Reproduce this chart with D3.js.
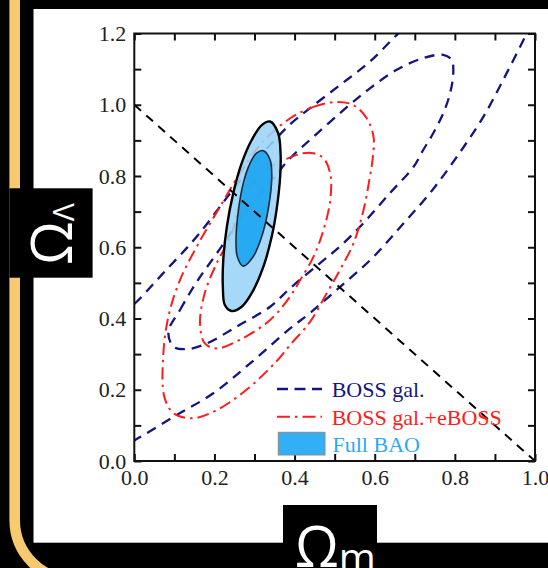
<!DOCTYPE html>
<html>
<head>
<meta charset="utf-8">
<script src="https://cdn.jsdelivr.net/npm/d3@7"></script>
<style>
  html, body { margin: 0; padding: 0; background: #000; }
  svg { display: block; }
</style>
</head>
<body>
<script>
// ---- data (Omega_m, Omega_Lambda) ----
const xTickLabels = [0, 0.2, 0.4, 0.6, 0.8, 1.0];
const yTickLabels = [0, 0.2, 0.4, 0.6, 0.8, 1.0, 1.2];
const legendLabels = ["BOSS gal.", "BOSS gal.+eBOSS", "Full BAO"];

const flatLine = [[0, 1], [1, 0]];

// BOSS gal. 95% (open: runs out of the box on the left and at the top)
const bossOuter = [
  [0.70, 1.24], [0.659, 1.2], [0.588, 1.121], [0.513, 1.055], [0.438, 0.99],
  [0.389, 0.945], [0.31, 0.85], [0.239, 0.751], [0.156, 0.63], [0.072, 0.527],
  [0.006, 0.447], [-0.04, 0.40], [-0.09, 0.25], [-0.04, 0.035], [0.002, 0.059],
  [0.098, 0.124], [0.197, 0.19], [0.289, 0.274], [0.389, 0.372], [0.438, 0.415],
  [0.513, 0.488], [0.596, 0.572], [0.671, 0.666], [0.738, 0.752], [0.805, 0.854],
  [0.871, 0.966], [0.929, 1.088], [0.979, 1.2], [0.995, 1.24]
];
// BOSS gal. 68%
const bossInner = [
  [0.085, 0.363], [0.114, 0.424], [0.156, 0.503], [0.206, 0.583], [0.264, 0.677],
  [0.339, 0.782], [0.389, 0.85], [0.447, 0.91], [0.522, 0.985], [0.588, 1.046],
  [0.655, 1.098], [0.721, 1.131], [0.771, 1.14], [0.792, 1.126], [0.796, 1.088],
  [0.788, 1.032], [0.771, 0.976], [0.746, 0.92], [0.721, 0.873], [0.697, 0.826],
  [0.638, 0.752], [0.572, 0.668], [0.513, 0.602], [0.463, 0.555], [0.389, 0.485],
  [0.339, 0.433], [0.255, 0.377], [0.181, 0.33], [0.131, 0.314], [0.098, 0.321]
];
// BOSS gal.+eBOSS 95%
const redOuter = [
  [0.389, 0.962], [0.447, 0.994], [0.505, 1.008], [0.547, 0.999], [0.58, 0.962],
  [0.597, 0.91], [0.595, 0.85], [0.588, 0.798], [0.572, 0.704], [0.547, 0.611],
  [0.513, 0.536], [0.48, 0.47], [0.438, 0.39], [0.389, 0.326], [0.355, 0.28],
  [0.28, 0.2], [0.206, 0.143], [0.147, 0.12], [0.098, 0.134], [0.075, 0.18],
  [0.072, 0.292], [0.085, 0.405], [0.114, 0.508], [0.156, 0.602], [0.214, 0.714],
  [0.264, 0.808], [0.32, 0.895]
];
// BOSS gal.+eBOSS 68%
const redInner = [
  [0.38, 0.848], [0.422, 0.864], [0.447, 0.864], [0.472, 0.85], [0.489, 0.807],
  [0.489, 0.732], [0.472, 0.648], [0.447, 0.573], [0.414, 0.508], [0.389, 0.462],
  [0.339, 0.396], [0.263, 0.34], [0.206, 0.316], [0.176, 0.33], [0.164, 0.386],
  [0.176, 0.472], [0.206, 0.556], [0.243, 0.637], [0.262, 0.72], [0.30, 0.785],
  [0.345, 0.83]
];
// Full BAO 95% / 68%
const baoOuter = [
  [0.339, 0.953], [0.359, 0.92], [0.365, 0.864], [0.364, 0.798], [0.355, 0.705],
  [0.343, 0.63], [0.322, 0.545], [0.293, 0.471], [0.268, 0.433], [0.243, 0.421],
  [0.226, 0.438], [0.221, 0.489], [0.222, 0.564], [0.231, 0.658], [0.247, 0.752],
  [0.268, 0.836], [0.293, 0.901], [0.318, 0.943]
];
const baoInner = [
  [0.322, 0.871], [0.339, 0.845], [0.343, 0.798], [0.334, 0.705], [0.318, 0.63],
  [0.297, 0.574], [0.272, 0.547], [0.257, 0.574], [0.254, 0.63], [0.26, 0.705],
  [0.272, 0.78], [0.289, 0.836], [0.305, 0.864]
];

// ---- drawing ----
const W = 548, H = 568;
const navy = "#15157f", red = "#ff1c1c";

const svg = d3.select("body").append("svg")
  .attr("width", W).attr("height", H)
  .attr("viewBox", `0 0 ${W} ${H}`);

svg.append("rect").attr("width", W).attr("height", H).attr("fill", "#000");

// gold rounded border on the left
svg.append("rect")
  .attr("x", 14.7).attr("y", -100).attr("width", 700).attr("height", 680)
  .attr("rx", 60).attr("fill", "none")
  .attr("stroke", "#f8ca70").attr("stroke-width", 10.6);

// white panel
svg.append("rect")
  .attr("x", 33.5).attr("y", 9).attr("width", 530).attr("height", 533.7)
  .attr("fill", "#fff");

const x = d3.scaleLinear([0, 1], [134.3, 535]);
const y = d3.scaleLinear([0, 1.2], [461, 33.5]);

svg.append("clipPath").attr("id", "plotclip")
  .append("rect")
  .attr("x", x(0)).attr("y", y(1.2))
  .attr("width", x(1) - x(0)).attr("height", y(0) - y(1.2));

const plot = svg.append("g").attr("clip-path", "url(#plotclip)");

const lineOpen = d3.line().x(d => x(d[0])).y(d => y(d[1])).curve(d3.curveCatmullRom);
const lineClosed = d3.line().x(d => x(d[0])).y(d => y(d[1])).curve(d3.curveCatmullRomClosed);

// BOSS gal.
plot.append("path").attr("d", lineOpen(bossOuter))
  .attr("fill", "none").attr("stroke", navy).attr("stroke-width", 2.3)
  .attr("stroke-dasharray", "10,7");
plot.append("path").attr("d", lineClosed(bossInner))
  .attr("fill", "none").attr("stroke", navy).attr("stroke-width", 2.3)
  .attr("stroke-dasharray", "10,7");

// BOSS gal.+eBOSS
[redOuter, redInner].forEach(c => {
  plot.append("path").attr("d", lineClosed(c))
    .attr("fill", "none").attr("stroke", red).attr("stroke-width", 2)
    .attr("stroke-dasharray", "12,5,2.5,5");
});

// Full BAO
plot.append("path").attr("d", lineClosed(baoOuter))
  .attr("fill", "#9ad4f7").attr("fill-opacity", 0.88)
  .attr("stroke", "#000").attr("stroke-width", 2.4);
plot.append("path").attr("d", lineClosed(baoInner))
  .attr("fill", "#1aa4ef").attr("fill-opacity", 0.9)
  .attr("stroke", "#1b2a3a").attr("stroke-width", 1.6);

// flat universe
plot.append("path").attr("d", lineOpen(flatLine))
  .attr("fill", "none").attr("stroke", "#000").attr("stroke-width", 2)
  .attr("stroke-dasharray", "9,7");

// ---- axes ----
const allTicks = d3.range(0, 11).map(i => i / 10);
const allYTicks = d3.range(0, 13).map(i => i / 10);
const fmt = v => xTickLabels.some(t => Math.abs(t - v) < 1e-6) ? d3.format(".1f")(v) : "";
const fmtY = v => yTickLabels.some(t => Math.abs(t - v) < 1e-6) ? d3.format(".1f")(v) : "";

function styleAxis(g) {
  g.select(".domain").remove();
  g.selectAll(".tick line").attr("stroke", "#111").attr("stroke-width", 2);
  g.selectAll(".tick text")
    .attr("fill", "#222")
    .style("font-family", "'Liberation Serif', 'Times New Roman', serif")
    .style("font-size", "22px");
}

svg.append("g").attr("transform", `translate(0,${y(0)})`)
  .call(d3.axisBottom(x).tickValues(allTicks).tickFormat(fmt).tickSizeInner(-7).tickSizeOuter(0).tickPadding(8))
  .call(styleAxis);
svg.append("g").attr("transform", `translate(0,${y(1.2)})`)
  .call(d3.axisTop(x).tickValues(allTicks).tickFormat("").tickSizeInner(-7).tickSizeOuter(0))
  .call(styleAxis);
svg.append("g").attr("transform", `translate(${x(0)},0)`)
  .call(d3.axisLeft(y).tickValues(allYTicks).tickFormat(fmtY).tickSizeInner(-7).tickSizeOuter(0).tickPadding(8))
  .call(styleAxis);
svg.append("g").attr("transform", `translate(${x(1)},0)`)
  .call(d3.axisRight(y).tickValues(allYTicks).tickFormat("").tickSizeInner(-7).tickSizeOuter(0))
  .call(styleAxis);

svg.append("rect")
  .attr("x", x(0)).attr("y", y(1.2))
  .attr("width", x(1) - x(0)).attr("height", y(0) - y(1.2))
  .attr("fill", "none").attr("stroke", "#111").attr("stroke-width", 2);

// ---- legend ----
const lg = svg.append("g").style("font-family", "'Liberation Serif', 'Times New Roman', serif")
  .style("font-size", "22px");
lg.append("line").attr("x1", 277).attr("x2", 322).attr("y1", 389).attr("y2", 389)
  .attr("stroke", navy).attr("stroke-width", 2.3).attr("stroke-dasharray", "11,6.5");
lg.append("line").attr("x1", 277).attr("x2", 322).attr("y1", 416.7).attr("y2", 416.7)
  .attr("stroke", red).attr("stroke-width", 2).attr("stroke-dasharray", "13,5,2.5,5");
lg.append("rect").attr("x", 278.3).attr("y", 432.3).attr("width", 46.7).attr("height", 22.7)
  .attr("fill", "#33aff5").attr("stroke", "#8a8a8a").attr("stroke-width", 1);
lg.append("text").attr("x", 331.7).attr("y", 397).attr("fill", navy).text(legendLabels[0]);
lg.append("text").attr("x", 331.7).attr("y", 425).attr("fill", red).text(legendLabels[1]);
lg.append("text").attr("x", 332.5).attr("y", 452).attr("fill", "#2ca8f5").text(legendLabels[2]);

// ---- axis title boxes ----
svg.append("rect").attr("x", 9.4).attr("y", 188.3).attr("width", 83.2).attr("height", 89.4).attr("fill", "#000");
svg.append("rect").attr("x", 283).attr("y", 505).attr("width", 94).attr("height", 70).attr("fill", "#000");

const yt = svg.append("text")
  .attr("transform", "translate(72,265) rotate(-90)")
  .attr("fill", "#fff")
  .style("font-family", "'Open Sans', 'Noto Sans', sans-serif");
yt.append("tspan").style("font-size", "56px").text("Ω");
yt.append("tspan").style("font-size", "30px").attr("dy", 2).text("Λ");

const xt = svg.append("text")
  .attr("x", 295).attr("y", 567)
  .attr("fill", "#fff")
  .style("font-family", "'Open Sans', 'Noto Sans', sans-serif");
xt.append("tspan").style("font-size", "56px").text("Ω");
xt.append("tspan").style("font-size", "40px").attr("dy", 5).text("m");
</script>
</body>
</html>
